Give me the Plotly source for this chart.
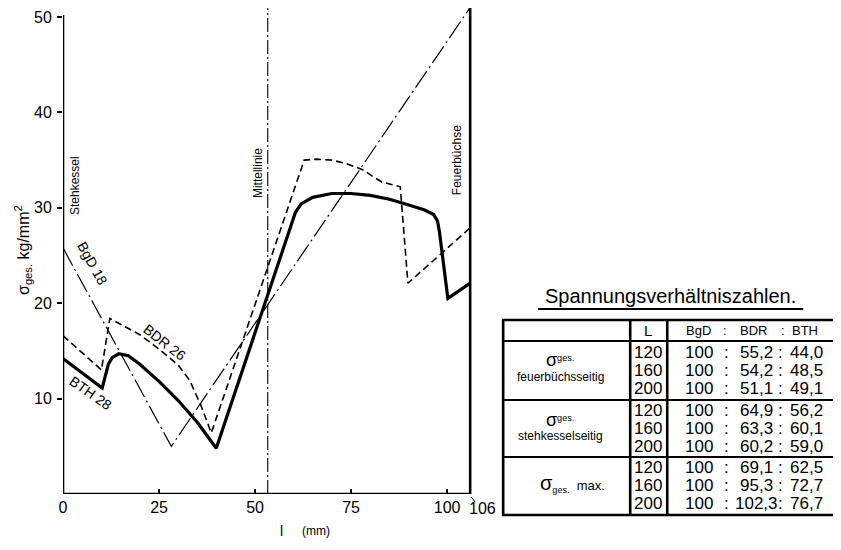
import plotly.graph_objects as go

# ---------------- data ----------------
bgd_x = [0, 28.2, 106]
bgd_y = [25.8, 5.0, 51.0]

bdr_x = [0, 10.0, 12.2, 15, 20, 25, 30, 33, 36, 38.6, 62.8, 66, 70, 74, 78, 81, 83, 85, 87.8, 89.8, 106]
bdr_y = [16.6, 13.0, 18.4, 17.8, 16.7, 15.2, 13.5, 11.9, 9.2, 6.4, 35.0, 35.1, 35.0, 34.6, 34.0, 33.2, 32.7, 32.5, 32.2, 22.1, 27.9]

bth_x = [0, 10.2, 11.8, 12.8, 14.5, 17, 20, 25, 30, 35, 39.9, 59.5, 60.5, 62, 65, 70, 75, 80, 85, 90, 94, 96.5, 97.5, 98.0, 100.2, 106]
bth_y = [14.2, 11.1, 13.6, 14.3, 14.7, 14.5, 13.6, 11.8, 9.8, 7.5, 4.8, 28.2, 29.5, 30.4, 31.1, 31.5, 31.5, 31.3, 30.9, 30.3, 29.8, 29.3, 28.6, 27.5, 20.5, 22.1]

mittellinie_x = 53.3
wall_x = 106

x_ticks = [0, 25, 50, 75, 100, 106]
y_ticks = [10, 20, 30, 40, 50]

table_title = "Spannungsverhältniszahlen."
table_header = ["L", "BgD", ":", "BDR", ":", "BTH"]
group_top = ["<span style='font-size:18px'>σ</span><sup>ges.</sup>",
             "<span style='font-size:18px'>σ</span><sup>ges.</sup>",
             "<span style='font-size:20px'>σ</span><sub>ges.</sub>  max."]
group_bottom = ["feuerbüchsseitig", "stehkesselseitig", ""]
lengths = ["120", "160", "200"]
bgd_vals = [["100", "100", "100"], ["100", "100", "100"], ["100", "100", "100"]]
bdr_vals = [["55,2", "54,2", "51,1"], ["64,9", "63,3", "60,2"], ["69,1", "95,3", "102,3"]]
bth_vals = [["44,0", "48,5", "49,1"], ["56,2", "60,1", "59,0"], ["62,5", "72,7", "76,7"]]

# ---------------- geometry ----------------
W, H = 833, 542           # page adds an 8px body margin
ML, MT, MB = 55, 0, 56
XMAX = 107.0
PX_PER_X = (470 - 63) / 106.0
PW = XMAX * PX_PER_X
MR = W - ML - PW
PH = H - MT - MB
YMAX = PH / 9.54


def xp(px):
    """reference-picture x pixel -> paper"""
    return (px - 63) / PW


def yp(py):
    """reference-picture y pixel -> paper"""
    return (494 - py) / PH


fnt = "Liberation Sans"


def ann(px, py, text, size, angle=0, family=fnt):
    return dict(x=xp(px), y=yp(py), xref="paper", yref="paper", text=text, showarrow=False,
                xanchor="center", yanchor="middle", textangle=angle,
                font=dict(family=family, size=size, color="black"))


fig = go.Figure()
fig.add_trace(go.Scatter(x=bgd_x, y=bgd_y, mode="lines",
                         line=dict(color="black", width=1.2, dash="20px,4px,2px,4px"),
                         name="BgD 18", showlegend=False, hoverinfo="skip"))
fig.add_trace(go.Scatter(x=bdr_x, y=bdr_y, mode="lines",
                         line=dict(color="black", width=1.6, dash="7px,4px"),
                         name="BDR 26", showlegend=False, hoverinfo="skip"))
fig.add_trace(go.Scatter(x=bth_x, y=bth_y, mode="lines",
                         line=dict(color="black", width=3.2),
                         name="BTH 28", showlegend=False, hoverinfo="skip"))

shapes = []
shapes.append(dict(type="line", xref="x", yref="y", x0=0, x1=0, y0=0, y1=50.2,
                   line=dict(color="black", width=2.6)))
shapes.append(dict(type="line", xref="x", yref="y", x0=0, x1=wall_x, y0=0, y1=0,
                   line=dict(color="black", width=2.6)))
shapes.append(dict(type="line", xref="x", yref="y", x0=wall_x, x1=wall_x, y0=0, y1=51.0,
                   line=dict(color="black", width=2.6)))
shapes.append(dict(type="line", xref="x", yref="y", x0=mittellinie_x, x1=mittellinie_x, y0=0, y1=51.3,
                   line=dict(color="black", width=1.1, dash="14px,3px,2px,3px")))
# small leader to the "106" label
shapes.append(dict(type="line", xref="paper", yref="paper", x0=xp(471), x1=xp(475),
                   y0=yp(497), y1=yp(502), line=dict(color="black", width=1)))

annotations = []
annotations.append(dict(x=7.6, y=24.2, xref="x", yref="y", text="BgD 18", showarrow=False,
                        xanchor="center", yanchor="middle", textangle=61,
                        font=dict(family=fnt, size=14, color="black")))
annotations.append(dict(x=26.3, y=15.9, xref="x", yref="y", text="BDR 26", showarrow=False,
                        xanchor="center", yanchor="middle", textangle=38,
                        font=dict(family=fnt, size=14, color="black")))
annotations.append(dict(x=7.2, y=10.6, xref="x", yref="y", text="BTH 28", showarrow=False,
                        xanchor="center", yanchor="middle", textangle=35,
                        font=dict(family=fnt, size=14, color="black")))
annotations.append(ann(75, 186, "Stehkessel", 12, -90))
annotations.append(ann(258, 173, "Mittellinie", 12, -90))
annotations.append(ann(457, 160, "Feuerbüchse", 12, -90))
annotations.append(ann(23, 250, "σ<sub>ges.</sub> kg/mm<sup>2</sup>", 16, -90))
annotations.append(ann(281, 531, "l", 14))
annotations.append(ann(316, 531, "(mm)", 12))
annotations.append(ann(482, 508, "106", 16))

# ---------------- table ----------------
tx0, tx1, ty0, ty1 = 503, 838, 320, 515
annotations.append(ann(670, 296, table_title, 20))
shapes.append(dict(type="line", xref="paper", yref="paper", x0=xp(538), x1=xp(803),
                   y0=yp(309), y1=yp(309), line=dict(color="black", width=1.8)))
shapes.append(dict(type="rect", xref="paper", yref="paper", x0=xp(tx0), x1=xp(tx1),
                   y0=yp(ty0), y1=yp(ty1), line=dict(color="black", width=2.6)))
for vx in (630, 667):
    shapes.append(dict(type="line", xref="paper", yref="paper", x0=xp(vx), x1=xp(vx),
                       y0=yp(ty0), y1=yp(ty1), line=dict(color="black", width=2.6)))
for hy in (341, 400, 457):
    shapes.append(dict(type="line", xref="paper", yref="paper", x0=xp(tx0), x1=xp(tx1),
                       y0=yp(hy), y1=yp(hy), line=dict(color="black", width=2.2)))

header_x = [648, 698, 725, 753, 783, 805]
for hx, ht in zip(header_x, table_header):
    annotations.append(ann(hx, 331, ht, 15 if ht == "L" else 13))

row_y = [[352, 370, 388], [410, 428, 446], [467, 485, 503]]
top_y = [360, 420, 483]
bottom_y = [377, 436, None]
top_x = [560, 560, 572]
for g in range(3):
    annotations.append(ann(top_x[g], top_y[g], group_top[g], 13))
    if group_bottom[g]:
        annotations.append(ann(560, bottom_y[g], group_bottom[g], 12))
    for r in range(3):
        parts = [(648, lengths[r]), (699, bgd_vals[g][r]), (726, ":"),
                 (756, bdr_vals[g][r]), (780, ":"), (806, bth_vals[g][r])]
        for px_, t in parts:
            annotations.append(ann(px_, row_y[g][r], t, 17))

fig.update_layout(
    width=W, height=H,
    margin=dict(l=ML, r=MR, t=MT, b=MB, pad=0, autoexpand=False),
    paper_bgcolor="white", plot_bgcolor="white",
    showlegend=False,
    shapes=shapes, annotations=annotations,
    xaxis=dict(range=[0, XMAX], tickvals=x_ticks, ticktext=["0", "25", "50", "75", "100", ""],
               tickangle=0, showgrid=False, zeroline=False, showline=False,
               ticks="inside", ticklen=5, tickwidth=1.5, tickcolor="black",
               tickfont=dict(family=fnt, size=16, color="black"), ticklabelstandoff=2),
    yaxis=dict(range=[0, YMAX], tickvals=y_ticks, ticktext=[str(v) for v in y_ticks],
               showgrid=False, zeroline=False, showline=False,
               ticks="outside", ticklen=5, tickwidth=1.5, tickcolor="black",
               tickfont=dict(family=fnt, size=16, color="black"), ticklabelstandoff=2),
)

fig.write_html("out.html")
